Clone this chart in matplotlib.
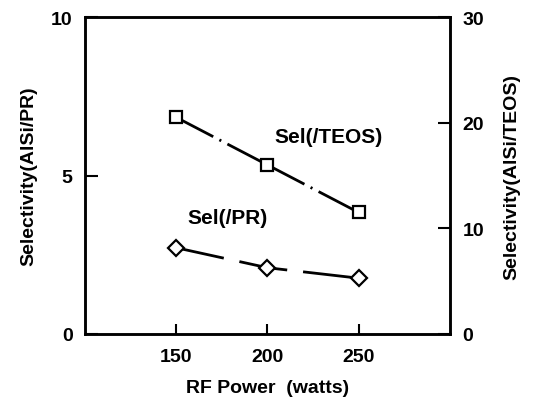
import matplotlib.pyplot as plt

# RF power sweep, selectivity of AlSi etch
rf_power = [150, 200, 250]
sel_pr = [2.72, 2.09, 1.76]        # left axis
sel_teos = [20.5, 16.0, 11.5]      # right axis

plt.rcParams['font.family'] = ['Liberation Sans', 'DejaVu Sans']
plt.rcParams['font.weight'] = 'bold'
plt.rcParams['axes.labelweight'] = 'bold'
plt.rcParams['font.size'] = 14
plt.rcParams['lines.scale_dashes'] = False

fig = plt.figure(figsize=(5.42, 4.10), dpi=100)
ax = fig.add_axes([0.157, 0.183, 0.673, 0.773])
ax2 = ax.twinx()

# Sel(/PR): long dashes, open diamonds
ax.plot(rf_power, sel_pr, color='black', lw=2.0,
        linestyle=(0, (35, 11.5)), marker='D', markersize=8.5,
        markerfacecolor='white', markeredgewidth=1.6, markeredgecolor='black')

# Sel(/TEOS): dash-dot, each segment drawn on its own so the dot sits mid-way
for i in range(len(rf_power) - 1):
    ax2.plot(rf_power[i:i + 2], sel_teos[i:i + 2], color='black', lw=2.0,
             linestyle=(0, (30, 5, 1.5, 5)))
ax2.plot(rf_power, sel_teos, linestyle='none', marker='s', markersize=8.5,
         markerfacecolor='white', markeredgewidth=1.6, markeredgecolor='black')

ax.set_xlim(100, 300)
ax.set_ylim(0, 10)
ax2.set_ylim(0, 30)
ax.set_xticks([150, 200, 250])
ax.set_yticks([0, 5, 10])
ax2.set_yticks([0, 10, 20, 30])

ax.tick_params(axis='x', direction='in', length=7, width=1.5, pad=10)
ax.tick_params(axis='y', direction='in', length=9, width=1.5, pad=9)
ax2.tick_params(axis='y', direction='in', length=9, width=1.5, pad=9)
for a in (ax, ax2):
    for s in a.spines.values():
        s.set_linewidth(1.8)

ax.set_xlabel('RF Power  (watts)', labelpad=10)
ax.set_ylabel('Selectivity(AlSi/PR)', labelpad=10)
ax2.set_ylabel('Selectivity(AlSi/TEOS)', labelpad=14)

ax.text(204, 6.23, 'Sel(/TEOS)', ha='left', va='center', fontsize=15)
ax.text(156, 3.69, 'Sel(/PR)', ha='left', va='center', fontsize=15)

fig.savefig('out.png', dpi=100)
